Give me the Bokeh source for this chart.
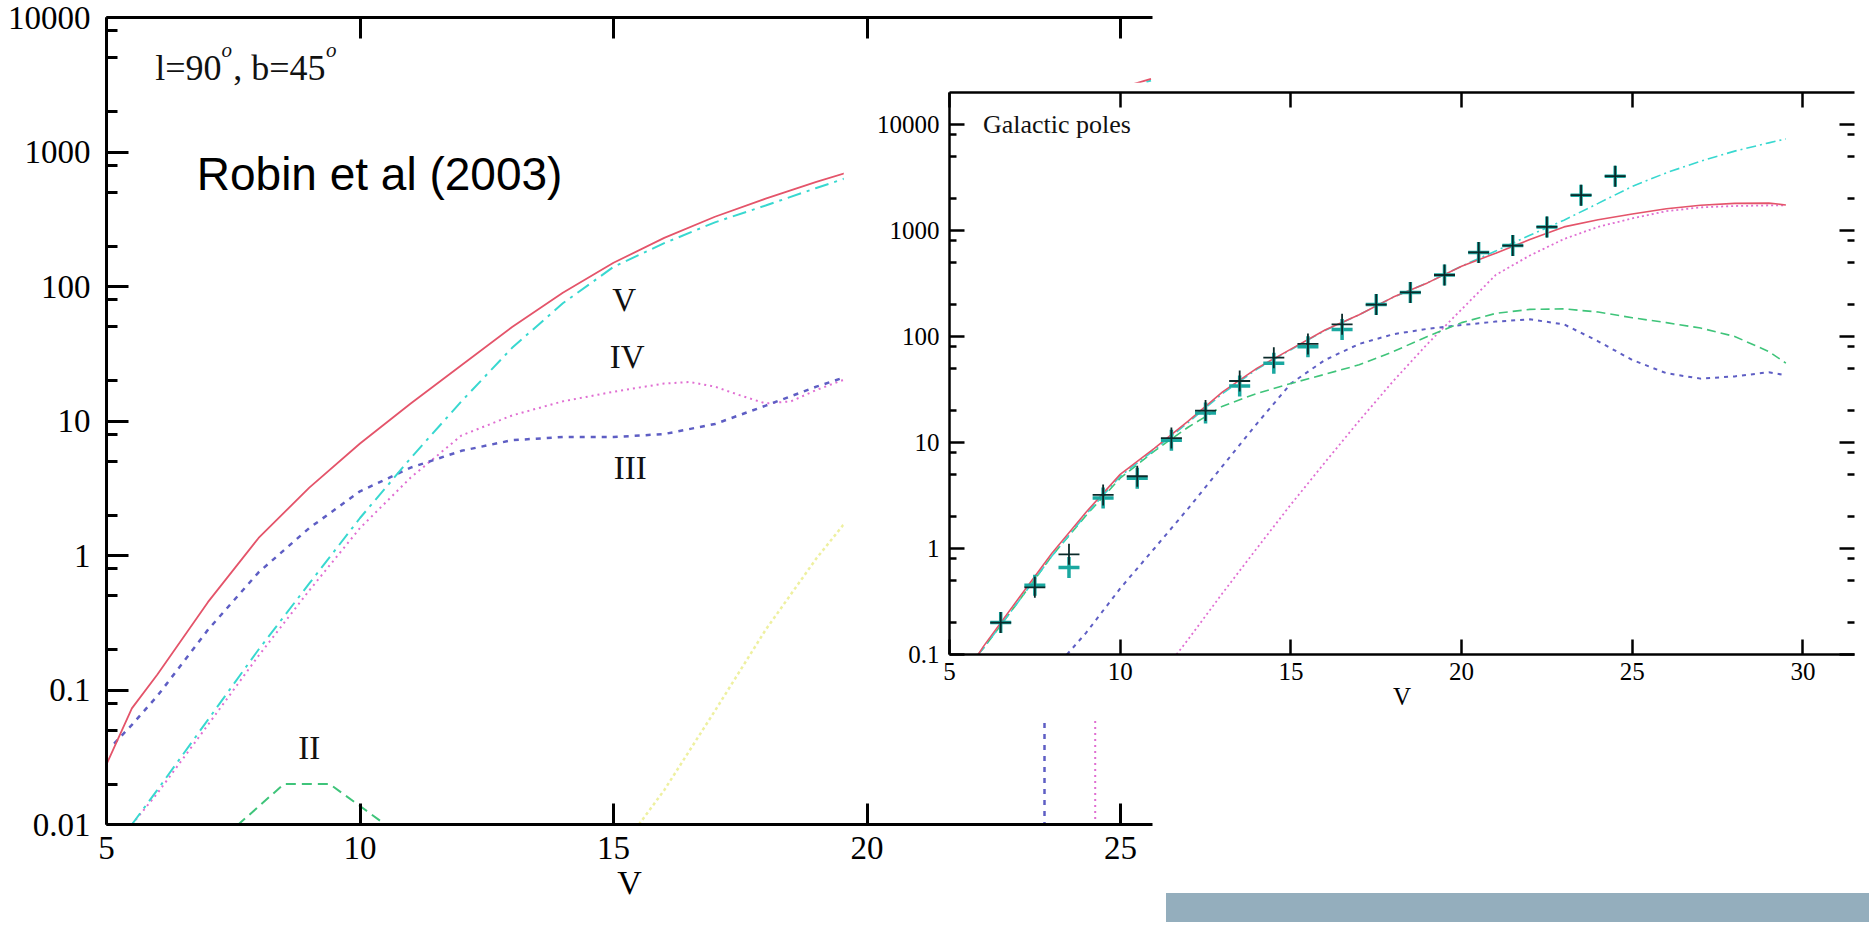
from bokeh.plotting import figure
from bokeh.models import (Range1d, FixedTicker, CustomJSTickFormatter, LinearAxis, LogAxis,
                          Label, Div, Column, CustomLabelingPolicy)
from bokeh.embed import file_html
from bokeh.resources import INLINE

# ---------------- data: left panel (Robin et al 2003, l=90, b=45) ----------------
left_xticks = [5, 10, 15, 20, 25]
left_yticks = [0.01, 0.1, 1, 10, 100, 1000, 10000]
left_yminor = [0.02, 0.05, 0.08, 0.2, 0.5, 0.8, 2, 5, 8, 20, 50, 80, 200, 500, 800, 2000, 5000, 8000]

L_total_V = [5, 5.5, 6, 7, 8, 9, 10, 11, 12, 13, 14, 15, 16, 17, 18, 19, 20, 21, 22, 23, 24, 25, 25.6]
L_total = [0.028, 0.073, 0.13, 0.45, 1.35, 3.2, 6.8, 13.5, 26, 50, 90, 150, 230, 330, 450, 600, 780,
           1000, 1300, 1700, 2300, 3000, 3500]

L_dwarfs_V = [5.5, 6, 7, 8, 9, 10, 11, 12, 13, 14, 15, 16, 17, 18, 19, 20, 21, 22, 23, 24, 25, 25.6]
L_dwarfs = [0.01, 0.018, 0.06, 0.2, 0.62, 1.9, 5.3, 14, 35, 75, 140, 210, 300, 400, 540, 720, 950,
            1250, 1650, 2200, 2900, 3400]

L_sub_V = [5.5, 6, 7, 8, 9, 10, 11, 12, 13, 14, 15, 16, 16.5, 17, 17.5, 18, 18.5, 19, 19.5, 20, 21,
           22, 23, 24, 24.5, 24.5]
L_sub = [0.01, 0.017, 0.055, 0.18, 0.55, 1.6, 3.8, 7.8, 11, 14, 16.5, 19, 19.5, 18, 15.5, 13.5, 14,
         17, 20, 22, 26, 30, 33, 35, 35, 0.001]

L_giants_V = [5.15, 5.5, 6, 7, 8, 9, 10, 11, 12, 13, 14, 15, 16, 17, 18, 19, 20, 21, 22, 23, 23.5, 23.5]
L_giants = [0.04, 0.055, 0.09, 0.28, 0.75, 1.6, 3.0, 4.5, 6.0, 7.2, 7.6, 7.6, 8.0, 9.5, 13, 18, 24,
            30, 36, 42, 45, 0.001]

L_bright_V = [6.0, 7.6, 8.5, 9.4, 10.5]
L_bright = [0.01, 0.01, 0.02, 0.02, 0.01]

L_wd_V = [15.5, 16, 17, 18, 19, 20, 21, 22]
L_wd = [0.01, 0.018, 0.07, 0.28, 0.95, 2.8, 7, 15]

# ---------------- data: right panel (Galactic poles) ----------------
right_xticks = [5, 10, 15, 20, 25, 30]
right_yticks = [0.1, 1, 10, 100, 1000, 10000]
right_yminor = [0.2, 0.5, 0.8, 2, 5, 8, 20, 50, 80, 200, 500, 800, 2000, 5000, 8000]

R_V = [5.84, 6, 7, 8, 9, 10, 11, 12, 13, 14, 15, 16, 17, 18, 19, 20, 21, 22, 23, 24, 25, 26, 27,
       28, 29, 29.5]
R_total = [0.1, 0.12, 0.33, 0.9, 2.2, 5.0, 8.8, 16, 30, 50, 76, 115, 160, 235, 320, 460, 610, 820,
           1080, 1260, 1430, 1600, 1730, 1800, 1810, 1740]
R_model2 = [0.1, 0.115, 0.31, 0.85, 2.1, 4.8, 8.5, 15.5, 29, 49, 75, 114, 160, 235, 320, 460, 640,
            900, 1250, 1800, 2600, 3500, 4500, 5600, 6700, 7300]
R_thick = [0.1, 0.115, 0.31, 0.85, 2.05, 4.6, 8.3, 14, 22, 29, 36, 44, 54, 72, 100, 135, 165, 180,
           182, 170, 150, 135, 120, 100, 72, 56]

R_thin_V = [8.44, 9, 10, 11, 12, 13, 14, 15, 16, 17, 18, 19, 20, 21, 22, 23, 24, 25, 26, 27, 28, 29, 29.5]
R_thin = [0.1, 0.16, 0.42, 1.0, 2.4, 6.0, 15, 36, 60, 85, 105, 118, 128, 138, 145, 130, 90, 60, 45,
          40, 42, 46, 43]

R_halo_V = [11.65, 12, 13, 14, 15, 16, 17, 18, 19, 20, 21, 22, 23, 24, 25, 26, 27, 28, 29, 29.5]
R_halo = [0.1, 0.14, 0.38, 1.0, 2.6, 6.5, 16, 38, 85, 180, 380, 580, 830, 1080, 1300, 1520, 1650,
          1700, 1720, 1720]

pts_V = [6.5, 7.5, 8.5, 9.5, 10.5, 11.5, 12.5, 13.5, 14.5, 15.5, 16.5, 17.5, 18.5, 19.5, 20.5, 21.5,
         22.5, 23.5, 24.5]
pts_north = [0.2, 0.43, 0.88, 3.2, 4.8, 11, 20, 38, 63, 85, 130, 200, 260, 380, 620, 720, 1080, 2150, 3250]
pts_south = [0.2, 0.45, 0.66, 3.0, 4.6, 10.5, 19, 34, 56, 80, 116, 200, 260, 380, 620, 720, 1080, 2150, 3250]

# ---------------- styling ----------------
SERIF = "Liberation Serif"
C_RED = "#e4546a"
C_CYAN = "#38d8d0"
C_PINK = "#e06ed2"
C_BLUE = "#5e5ec4"
C_GREEN = "#3fc47a"
C_YELLOW = "#eef0a0"
fmt_code = "return tick.toString();"


def style_axis(ax, major, minor, lw, fs, labels=True, line=True):
    ax.major_tick_in = major
    ax.major_tick_out = 0
    ax.minor_tick_in = minor
    ax.minor_tick_out = 0
    ax.axis_line_width = lw
    ax.major_tick_line_width = lw
    ax.minor_tick_line_width = lw
    ax.axis_line_color = "black" if line else None
    ax.major_tick_line_color = "black"
    ax.minor_tick_line_color = "black"
    ax.major_label_text_font = SERIF
    ax.major_label_text_color = "black"
    if labels:
        ax.major_label_text_font_size = f"{fs}px"
    else:
        # tick marks only: hide every label through a labeling policy
        ax.major_label_text_font_size = "4px"
        ax.major_label_standoff = 0
        ax.major_label_policy = CustomLabelingPolicy(code="return []")
    ax.axis_label_text_font = SERIF
    ax.axis_label_text_font_style = "normal"
    ax.axis_label_text_color = "black"


# ---------------- left panel ----------------
L = figure(width=1162, height=917, x_range=Range1d(5, 25.63), y_range=Range1d(0.01, 10000),
           y_axis_type="log", output_backend="svg", toolbar_location=None,
           min_border_left=106, min_border_right=0, min_border_top=17, min_border_bottom=85,
           outline_line_color=None, background_fill_color="white", border_fill_color="white",
           styles={"position": "absolute", "left": "0px", "top": "0px"})
L.xgrid.visible = False
L.ygrid.visible = False

lx = L.xaxis[0]
lx.ticker = FixedTicker(ticks=left_xticks)
style_axis(lx, 21, 0, 3, 33)
lx.axis_label = "V"
lx.axis_label_text_font_size = "34px"
lx.major_label_standoff = 12
lx.axis_label_standoff = 2

ly = L.yaxis[0]
ly.ticker = FixedTicker(ticks=left_yticks, minor_ticks=left_yminor)
ly.formatter = CustomJSTickFormatter(code=fmt_code)
style_axis(ly, 22, 11, 3, 33)
ly.major_label_standoff = 16

ltop = LinearAxis(ticker=FixedTicker(ticks=left_xticks))
style_axis(ltop, 21, 0, 3, 33, labels=False)
L.add_layout(ltop, "above")

L.line(L_bright_V, L_bright, line_color=C_GREEN, line_width=2, line_dash="10 6")
L.line(L_wd_V, L_wd, line_color=C_YELLOW, line_width=2.5, line_dash="3 3")
L.line(L_sub_V, L_sub, line_color=C_PINK, line_width=2, line_dash="2 4")
L.line(L_giants_V, L_giants, line_color=C_BLUE, line_width=2.5, line_dash="5 6")
L.line(L_dwarfs_V, L_dwarfs, line_color=C_CYAN, line_width=2, line_dash="14 6 3 6")
L.line(L_total_V, L_total, line_color=C_RED, line_width=1.8)

for txt, x, y in [("V", 15.21, 80), ("IV", 15.27, 30), ("III", 15.33, 4.5), ("II", 9.0, 0.037)]:
    L.add_layout(Label(x=x, y=y, text=txt, text_font=SERIF, text_font_size="33px",
                       text_align="center", text_baseline="middle", text_color="#111111"))

# l=90°, b=45° with raised italic "o"
L.add_layout(Label(x=5.96, y=4180, text="l=90", text_font=SERIF, text_font_size="36px",
                   text_baseline="alphabetic", text_color="#111111"))
L.add_layout(Label(x=7.27, y=5700, text="o", text_font=SERIF, text_font_size="21px",
                   text_font_style="italic", text_baseline="alphabetic", text_color="#111111"))
L.add_layout(Label(x=7.50, y=4180, text=", b=45", text_font=SERIF, text_font_size="36px",
                   text_baseline="alphabetic", text_color="#111111"))
L.add_layout(Label(x=9.33, y=5700, text="o", text_font=SERIF, text_font_size="21px",
                   text_font_style="italic", text_baseline="alphabetic", text_color="#111111"))

L.add_layout(Label(x=6.78, y=690, text="Robin et al (2003)", text_font="Liberation Sans",
                   text_font_size="46px", text_baseline="middle", text_color="black"))

# ---------------- right panel ----------------
R = figure(width=1021, height=638, x_range=Range1d(5, 31.51), y_range=Range1d(0.1, 20000),
           y_axis_type="log", output_backend="svg", toolbar_location=None,
           min_border_left=73, min_border_right=0, min_border_top=10, min_border_bottom=66,
           outline_line_color=None, background_fill_color="white", border_fill_color="white",
           styles={"position": "absolute", "left": "843px", "top": "82px", "z-index": "5"})
R.xgrid.visible = False
R.ygrid.visible = False

rx = R.xaxis[0]
rx.ticker = FixedTicker(ticks=right_xticks)
style_axis(rx, 15, 0, 2.5, 25)
rx.axis_label = "V"
rx.axis_label_text_font_size = "25px"
rx.major_label_standoff = 8
rx.axis_label_standoff = 0

ry = R.yaxis[0]
ry.ticker = FixedTicker(ticks=right_yticks, minor_ticks=right_yminor)
ry.formatter = CustomJSTickFormatter(code=fmt_code)
style_axis(ry, 15, 7, 2.5, 25)
ry.major_label_standoff = 10

rtop = LinearAxis(ticker=FixedTicker(ticks=right_xticks))
style_axis(rtop, 15, 0, 2.5, 25, labels=False)
R.add_layout(rtop, "above")

rright = LogAxis(ticker=FixedTicker(ticks=right_yticks, minor_ticks=right_yminor))
style_axis(rright, 15, 7, 2.5, 25, labels=False, line=False)
R.add_layout(rright, "right")

R.line(R_halo_V, R_halo, line_color=C_PINK, line_width=1.8, line_dash="2 3")
R.line(R_thin_V, R_thin, line_color=C_BLUE, line_width=2, line_dash="4 5")
R.line(R_V, R_thick, line_color=C_GREEN, line_width=1.6, line_dash="9 5")
R.line(R_V, R_model2, line_color=C_CYAN, line_width=1.6, line_dash="10 4 2 4")
R.line(R_V, R_total, line_color=C_RED, line_width=1.6)

R.scatter(pts_V, pts_south, marker="cross", size=21, line_color="#1aa8a0", line_width=3.5)
R.scatter(pts_V, pts_north, marker="cross", size=21, line_color="#0b2a2a", line_width=1.8)

R.add_layout(Label(x=5.98, y=10000, text="Galactic poles", text_font=SERIF, text_font_size="26px",
                   text_baseline="middle", text_color="#111111"))

# ---------------- decorative band ----------------
band = Div(text="", width=703, height=29,
           styles={"position": "absolute", "left": "1161px", "top": "888px",
                   "background-color": "#94aebd"})

root = Column(children=[L, R, band], width=1856, height=909, sizing_mode="fixed",
              styles={"position": "relative"})

open("out.html", "w").write(file_html(root, INLINE))
